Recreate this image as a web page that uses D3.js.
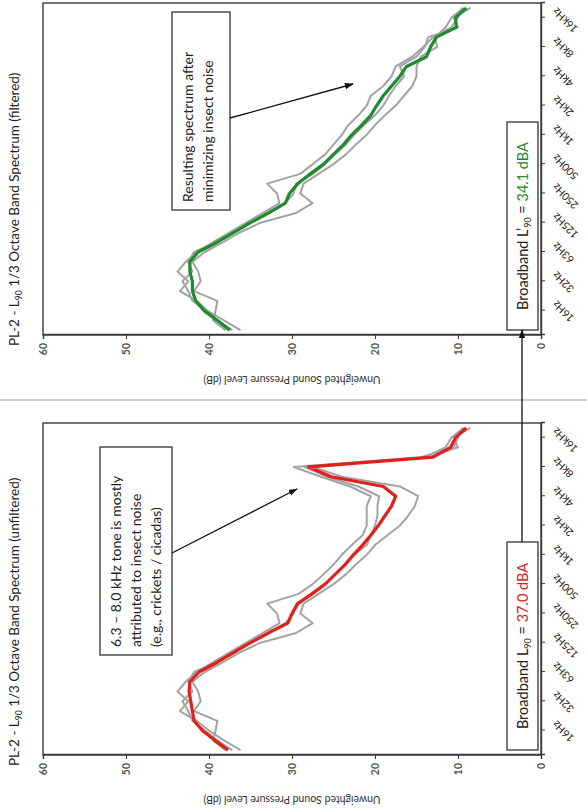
<!DOCTYPE html>
<html>
<head>
<meta charset="utf-8">
<script src="https://cdn.jsdelivr.net/npm/d3@7"></script>
<style>
  html, body { margin: 0; padding: 0; background: #fff; }
  svg { display: block; }
  text { font-family: Lato, "Open Sans", sans-serif; }
</style>
</head>
<body>
<svg id="page" width="587" height="808"></svg>
<script>
// 1/3-octave band centre frequencies shown on the frequency axis
const bands = ["10Hz","12.5Hz","16Hz","20Hz","25Hz","31.5Hz","40Hz","50Hz","63Hz","80Hz",
  "100Hz","125Hz","160Hz","200Hz","250Hz","315Hz","400Hz","500Hz","630Hz","800Hz",
  "1kHz","1.25kHz","1.6kHz","2kHz","2.5kHz","3.15kHz","4kHz","5kHz","6.3kHz","8kHz",
  "10kHz","12.5kHz","16kHz","20kHz"];
const tickBands  = ["16Hz","31.5Hz","63Hz","125Hz","250Hz","500Hz","1kHz","2kHz","4kHz","8kHz","16kHz"];
const tickLabels = ["16Hz","32Hz","63Hz","125Hz","250Hz","500Hz","1kHz","2kHz","4kHz","8kHz","16kHz"];
const dbTicks = [0, 10, 20, 30, 40, 50, 60];

// Unfiltered L90 spectrum: overall (red) and individual periods (grey)
const unfilteredL90  = [37.7,39.3,40.8,41.8,42.0,42.2,42.4,42.3,41.2,39.0,37.0,35.0,32.8,30.5,30.0,29.3,27.6,26.0,24.8,23.6,22.6,21.5,20.5,19.6,18.8,18.0,17.5,19.0,25.3,28.0,13.0,10.9,10.3,9.0];
const unfilteredRunA = [36.2,38.2,40.0,41.5,43.5,42.5,43.8,42.8,41.5,39.5,37.5,35.5,33.5,31.5,31.8,33.0,29.2,27.5,26.2,25.0,24.0,22.8,21.5,21.0,21.0,21.0,20.5,23.0,26.5,29.8,14.5,10.5,10.0,9.5];
const unfilteredRunB = [38.0,39.5,39.2,39.0,41.8,41.0,41.3,42.0,40.5,38.3,36.3,33.8,29.5,27.5,29.0,28.6,26.8,25.0,23.5,22.3,21.0,20.0,18.5,17.0,16.0,15.2,14.8,17.0,24.0,27.5,14.0,11.5,10.8,9.3];
const unfilteredRunC = [37.2,39.0,40.5,42.0,42.5,43.2,42.0,42.5,41.8,39.0,37.0,35.0,33.0,30.8,29.8,29.5,27.5,26.0,24.8,23.5,22.5,21.0,20.5,20.0,19.7,19.7,19.5,22.0,25.8,28.5,13.5,10.0,10.5,8.5];

// Filtered L'90 spectrum: overall (green) and individual periods (grey)
const filteredL90  = [37.5,39.0,40.6,41.6,42.0,42.0,42.3,42.3,41.3,39.0,37.0,35.0,32.8,30.8,30.3,29.3,27.8,26.2,25.0,23.8,22.8,21.6,20.5,19.8,19.0,18.0,17.0,16.2,13.8,13.3,12.6,10.2,10.3,9.0];
const filteredRunA = [36.2,38.2,40.2,41.5,43.5,42.5,43.8,42.8,41.5,39.5,37.5,35.5,33.5,31.5,31.8,33.0,29.0,27.5,26.0,25.0,24.0,23.2,22.0,21.0,20.5,19.0,18.0,17.5,15.5,14.2,13.0,10.8,10.0,9.5];
const filteredRunB = [38.0,39.5,39.2,39.0,41.8,41.0,41.3,42.0,40.5,38.3,36.3,33.8,29.5,27.5,29.0,28.6,26.8,25.0,23.5,22.3,21.0,20.0,18.8,17.5,16.5,15.5,15.0,15.0,14.5,12.5,12.8,11.5,10.8,9.3];
const filteredRunC = [37.2,39.0,40.5,42.0,42.5,43.2,42.0,42.5,41.8,39.0,37.0,35.0,33.0,30.8,29.8,29.5,27.5,26.0,24.8,23.5,22.5,21.3,20.0,19.0,18.3,17.5,16.5,17.0,15.0,14.0,13.6,10.0,10.5,8.5];

const svg = d3.select("#page");
// the whole sheet is laid out landscape (808 x 587) and turned a quarter turn
const sheet = svg.append("g").attr("transform", "translate(0,808) rotate(-90)");

const defs = svg.append("defs");
defs.append("marker")
  .attr("id", "arrow").attr("viewBox", "0 0 10 10")
  .attr("refX", 9).attr("refY", 5)
  .attr("markerWidth", 7).attr("markerHeight", 7)
  .attr("orient", "auto-start-reverse")
  .append("path").attr("d", "M0,1.5 L10,5 L0,8.5 Z").attr("fill", "#111");

// divider between the two panels
sheet.append("line")
  .attr("x1", 408).attr("x2", 408).attr("y1", 0).attr("y2", 587)
  .attr("stroke", "#cfcfcf").attr("stroke-width", 2);

function drawPanel(ox, cfg) {
  const g = sheet.append("g");
  const x = d3.scalePoint().domain(bands).range([ox + 53, ox + 385]).padding(0.5);
  const y = d3.scaleLinear().domain([0, 60]).range([541, 43]);

  // title
  const t = g.append("text").attr("x", ox + 42).attr("y", 19)
    .attr("font-size", 13.5).attr("fill", "#222");
  t.append("tspan").text("PL-2 - L");
  t.append("tspan").attr("font-size", 8.5).attr("dy", 3).text("90");
  t.append("tspan").attr("dy", -3).text(" 1/3 Octave Band Spectrum (" + cfg.tag + ")");

  // frame
  g.append("rect").attr("x", ox + 53).attr("y", 43)
    .attr("width", 332).attr("height", 498)
    .attr("fill", "none").attr("stroke", "#3a3a3a").attr("stroke-width", 1.4);

  // dB axis
  const ya = g.append("g").attr("transform", `translate(${ox + 53},0)`)
    .call(d3.axisLeft(y).tickValues(dbTicks).tickSize(4).tickPadding(4));
  ya.select(".domain").attr("stroke", "#3a3a3a").attr("stroke-width", 1.4);
  ya.selectAll(".tick line").attr("stroke", "#3a3a3a");
  ya.selectAll(".tick text").attr("font-size", 10.5).attr("fill", "#555")
    .attr("font-weight", 700).attr("font-family", "Lato, sans-serif");

  // frequency axis
  const xa = g.append("g").attr("transform", "translate(0,541)")
    .call(d3.axisBottom(x).tickValues(tickBands)
      .tickFormat((d, i) => tickLabels[i]).tickSize(4));
  xa.select(".domain").attr("stroke", "#3a3a3a").attr("stroke-width", 1.4);
  xa.selectAll(".tick line").attr("stroke", "#3a3a3a");
  xa.selectAll(".tick text")
    .attr("font-size", 10.5).attr("fill", "#222").attr("font-family", "Lato, sans-serif")
    .attr("text-anchor", "end").attr("dy", "0.3em")
    .attr("transform", "translate(3,9) rotate(-45)");

  // axis title
  g.append("text")
    .attr("transform", `translate(${ox + 12},292) rotate(-90)`)
    .attr("text-anchor", "middle").attr("font-size", 10.5).attr("fill", "#333")
    .text("Unweighted Sound Pressure Level (dB)");

  const line = d3.line().x(d => x(d.band)).y(d => y(d.db));
  const toPts = arr => arr.map((v, i) => ({ band: bands[i], db: v }));

  cfg.runs.forEach(run => {
    g.append("path").attr("d", line(toPts(run)))
      .attr("fill", "none").attr("stroke", "#a3a3a3").attr("stroke-width", 2)
      .attr("stroke-linejoin", "round");
  });
  g.append("path").attr("d", line(toPts(cfg.main)))
    .attr("fill", "none").attr("stroke", cfg.color).attr("stroke-width", 3.2)
    .attr("stroke-linejoin", "round");

  // note box with arrow
  const nb = cfg.note;
  g.append("rect").attr("x", ox + nb.x).attr("y", nb.y).attr("width", nb.w).attr("height", nb.h)
    .attr("fill", "#fff").attr("stroke", "#333").attr("stroke-width", 1.3);
  nb.lines.forEach((s, i) => {
    g.append("text").attr("x", ox + nb.x + 8).attr("y", nb.y + 21 + i * 20)
      .attr("font-size", 14).attr("fill", "#222").text(s);
  });
  g.append("line")
    .attr("x1", ox + nb.ax1).attr("y1", nb.ay1).attr("x2", ox + nb.ax2).attr("y2", nb.ay2)
    .attr("stroke", "#111").attr("stroke-width", 1.3).attr("marker-end", "url(#arrow)");

  // broadband level box
  g.append("rect").attr("x", ox + 58).attr("y", 507).attr("width", 208).attr("height", 31)
    .attr("fill", "#fff").attr("stroke", "#333").attr("stroke-width", 1.3);
  const bt = g.append("text").attr("x", ox + 162).attr("y", 528)
    .attr("text-anchor", "middle").attr("font-size", 14.5).attr("fill", "#222");
  bt.append("tspan").text("Broadband L" + cfg.prime);
  bt.append("tspan").attr("font-size", 9).attr("dy", 3).text("90");
  bt.append("tspan").attr("dy", -3).text(" = ");
  bt.append("tspan").attr("fill", cfg.color).text(cfg.level);
}

drawPanel(0, {
  tag: "unfiltered", color: "#e0201c", prime: "", level: "37.0 dBA",
  main: unfilteredL90, runs: [unfilteredRunA, unfilteredRunB, unfilteredRunC],
  note: { x: 153, y: 100, w: 208, h: 72,
    lines: ["6.3 \u2013 8.0 kHz tone is mostly", "attributed to insect noise", "(e.g., crickets / cicadas)"],
    ax1: 255, ay1: 172, ax2: 319, ay2: 297 }
});
drawPanel(420, {
  tag: "filtered", color: "#1f8a2e", prime: "\u2019", level: "34.1 dBA",
  main: filteredL90, runs: [filteredRunA, filteredRunB, filteredRunC],
  note: { x: 178, y: 172, w: 198, h: 58,
    lines: ["Resulting spectrum after", "minimizing insect noise"],
    ax1: 270, ay1: 230, ax2: 304, ay2: 353 }
});

// link between the two broadband boxes
sheet.append("line").attr("x1", 266).attr("y1", 522).attr("x2", 478).attr("y2", 522)
  .attr("stroke", "#111").attr("stroke-width", 1.3).attr("marker-end", "url(#arrow)");
</script>
</body>
</html>
